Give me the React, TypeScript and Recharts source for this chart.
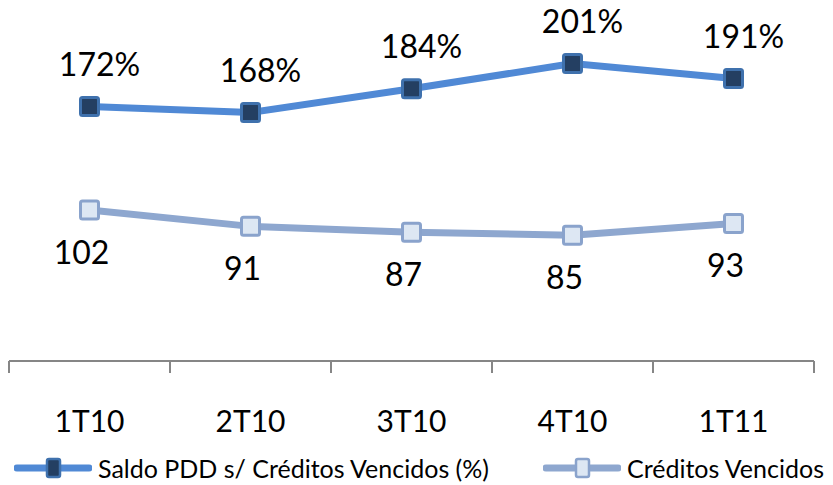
import { LineChart, Line, XAxis, YAxis } from 'recharts';

const quarters = ['1T10', '2T10', '3T10', '4T10', '1T11'];
const saldoPdd = [172, 168, 184, 201, 191];
const creditosVencidos = [102, 91, 87, 85, 93];

const data = quarters.map((q, i) => ({
  q,
  pdd: saldoPdd[i],
  venc: creditosVencidos[i],
}));

const W = 833;
const H = 485;
const M = { top: 0, right: 19, left: 9, bottom: 64 };
const STEP = (W - M.left - M.right) / quarters.length;
const FONT = 'Lato, "Open Sans", sans-serif';

const TOP = { line: '#5089d5', fill: '#243f62', edge: '#3f71ad' };
const LOW = { line: '#8ea7cf', fill: '#dde7f3', edge: '#8aa3cc' };

const square = (c: typeof TOP) => (p: any) => (
  <rect
    key={p.index}
    x={p.cx - 9}
    y={p.cy - 9}
    width={18}
    height={18}
    rx={2}
    fill={c.fill}
    stroke={c.edge}
    strokeWidth={3}
  />
);

const label = (dx: number, dy: number, suffix: string) => (p: any) => (
  <text
    key={p.index}
    x={p.x + dx}
    y={p.y + dy}
    textAnchor="middle"
    dominantBaseline="central"
    fontFamily={FONT}
    fontSize={32}
    fill="#000"
  >
    {p.value}
    {suffix}
  </text>
);

const Tick = (p: any) => {
  const last = p.index === quarters.length - 1;
  return (
    <g>
      <line x1={p.x - STEP / 2} x2={p.x - STEP / 2} y1={p.y} y2={p.y + 12} stroke="#868686" strokeWidth={2} />
      {last && (
        <line x1={p.x + STEP / 2} x2={p.x + STEP / 2} y1={p.y} y2={p.y + 12} stroke="#868686" strokeWidth={2} />
      )}
      <text
        x={p.x}
        y={p.y + 59}
        textAnchor="middle"
        dominantBaseline="central"
        fontFamily={FONT}
        fontSize={30}
        fill="#000"
      >
        {p.payload.value}
      </text>
    </g>
  );
};

const LegendItem = ({ c, text, left }: { c: typeof TOP; text: string; left: number }) => (
  <div
    style={{
      position: 'absolute',
      top: 453,
      left,
      display: 'flex',
      alignItems: 'center',
      fontFamily: FONT,
      fontSize: 25,
      color: '#000',
      whiteSpace: 'nowrap',
    }}
  >
    <svg width={78} height={24} style={{ display: 'block' }}>
      <line x1={3} x2={75} y1={12} y2={12} stroke={c.line} strokeWidth={7} strokeLinecap="round" />
      <rect x={33} y={3} width={13} height={18} rx={2} fill={c.fill} stroke={c.edge} strokeWidth={2.5} />
    </svg>
    <span style={{ marginLeft: 6 }}>{text}</span>
  </div>
);

export default function App() {
  return (
    <div style={{ position: 'absolute', left: 0, top: 0, width: W, height: H, background: '#fff' }}>
      <LineChart width={W} height={H} data={data} margin={M}>
        <XAxis
          dataKey="q"
          axisLine={{ stroke: '#868686', strokeWidth: 2 }}
          tickLine={false}
          tickSize={0}
          tickMargin={0}
          height={60}
          padding={{ left: STEP / 2, right: STEP / 2 }}
          tick={<Tick />}
          interval={0}
        />
        <YAxis hide domain={[0, 244]} allowDataOverflow />
        <Line
          dataKey="pdd"
          stroke={TOP.line}
          strokeWidth={7}
          dot={square(TOP)}
          label={label(10, -43, '%')}
          isAnimationActive={false}
        />
        <Line
          dataKey="venc"
          stroke={LOW.line}
          strokeWidth={7}
          dot={square(LOW)}
          label={label(-8, 41, '')}
          isAnimationActive={false}
        />
      </LineChart>
      <LegendItem c={TOP} text="Saldo PDD s/ Créditos Vencidos (%)" left={14} />
      <LegendItem c={LOW} text="Créditos Vencidos" left={543} />
    </div>
  );
}
